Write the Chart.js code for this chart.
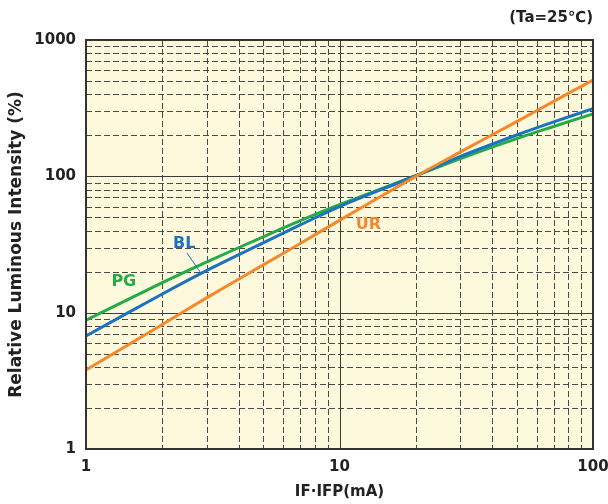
<!DOCTYPE html>
<html>
<head>
<meta charset="utf-8">
<script src="https://cdn.jsdelivr.net/npm/chart.js@4.4.1/dist/chart.umd.min.js"></script>
<style>
  html, body { margin: 0; padding: 0; background: #ffffff; }
  #wrap { width: 608px; height: 504px; position: relative; }
</style>
</head>
<body>
<div id="wrap"><canvas id="ivChart" width="608" height="504"></canvas></div>
<script>
// forward current IF (mA)
const currents = [1, 2, 3, 5, 7, 10, 20, 30, 50, 70, 100];
// relative luminous intensity (%)
const pgValues = [8.8, 16.6, 23.6, 36, 47.3, 62, 101, 135, 189, 232, 287];
const blValues = [6.75, 13.7, 20.4, 32.5, 44, 60, 101, 140, 201, 251, 313];
const urValues = [3.8, 8.2, 12.9, 22.4, 32.2, 47.5, 100, 151, 252, 355, 509];
const xTickLabels = [1, 10, 100];
const yTickLabels = [1, 10, 100, 1000];
// curve labels, placed in data coordinates
const curveLabels = [
    { text: 'PG', x: 1.41, y: 16.8, color: '#24ab48' },
    { text: 'BL', x: 2.44, y: 31.9, color: '#1a72c0' },
    { text: 'UR', x: 13.0, y: 44, color: '#f5892a' }
];
const blLeader = [{ x: 2.5, y: 27.4 }, { x: 2.82, y: 19.9 }];

const FONT = '"DejaVu Sans", "Liberation Sans", sans-serif';

function toPoints(values) {
    return currents.map(function(c, i) { return { x: c, y: values[i] }; });
}

const gridPlugin = {
    id: 'logGrid',
    beforeDatasetsDraw: function(chart) {
        const ctx = chart.ctx;
        const area = chart.chartArea;
        const xs = chart.scales.x;
        const ys = chart.scales.y;
        ctx.save();
        ctx.fillStyle = '#fef9dc';
        ctx.fillRect(area.left, area.top, area.right - area.left, area.bottom - area.top);

        // minor dashed lines
        ctx.strokeStyle = '#4a4a4a';
        ctx.lineWidth = 1;
        ctx.setLineDash([6, 3]);
        [1, 10].forEach(function(d) {
            for (let m = 2; m <= 9; m++) {
                const px = Math.round(xs.getPixelForValue(d * m)) + 0.5;
                ctx.beginPath();
                ctx.moveTo(px, area.top);
                ctx.lineTo(px, area.bottom);
                ctx.stroke();
            }
        });
        [1, 10, 100].forEach(function(d) {
            for (let m = 2; m <= 9; m++) {
                const py = Math.round(ys.getPixelForValue(d * m)) + 0.5;
                ctx.beginPath();
                ctx.moveTo(area.left, py);
                ctx.lineTo(area.right, py);
                ctx.stroke();
            }
        });

        // major solid lines
        ctx.setLineDash([]);
        ctx.strokeStyle = '#3c3c3c';
        ctx.lineWidth = 1;
        const px10 = Math.round(xs.getPixelForValue(10)) + 0.5;
        ctx.beginPath();
        ctx.moveTo(px10, area.top);
        ctx.lineTo(px10, area.bottom);
        ctx.stroke();
        [10, 100].forEach(function(v) {
            const py = Math.round(ys.getPixelForValue(v)) + 0.5;
            ctx.beginPath();
            ctx.moveTo(area.left, py);
            ctx.lineTo(area.right, py);
            ctx.stroke();
        });
        ctx.restore();
    },
    afterDatasetsDraw: function(chart) {
        const ctx = chart.ctx;
        const area = chart.chartArea;
        const xs = chart.scales.x;
        const ys = chart.scales.y;
        ctx.save();
        ctx.strokeStyle = '#333333';
        ctx.lineWidth = 2;
        ctx.strokeRect(area.left, area.top, area.right - area.left, area.bottom - area.top);

        // x tick labels
        ctx.fillStyle = '#222222';
        ctx.font = 'bold 15px ' + FONT;
        ctx.textAlign = 'center';
        ctx.textBaseline = 'middle';
        xTickLabels.forEach(function(v) {
            ctx.fillText(String(v), xs.getPixelForValue(v), area.bottom + 18);
        });

        // curve labels
        ctx.font = 'bold 16px ' + FONT;
        curveLabels.forEach(function(l) {
            ctx.fillStyle = l.color;
            ctx.fillText(l.text, xs.getPixelForValue(l.x), ys.getPixelForValue(l.y));
        });
        ctx.strokeStyle = '#1a72c0';
        ctx.lineWidth = 1;
        ctx.beginPath();
        ctx.moveTo(xs.getPixelForValue(blLeader[0].x), ys.getPixelForValue(blLeader[0].y));
        ctx.lineTo(xs.getPixelForValue(blLeader[1].x), ys.getPixelForValue(blLeader[1].y));
        ctx.stroke();

        // condition note
        ctx.fillStyle = '#222222';
        ctx.font = 'bold 15px ' + FONT;
        ctx.textAlign = 'right';
        ctx.fillText('(Ta=25℃)', area.right, 18);
        ctx.restore();
    }
};

document.addEventListener('DOMContentLoaded', function() {
    const ctx = document.getElementById('ivChart').getContext('2d');
    new Chart(ctx, {
        type: 'line',
        data: {
            datasets: [
                { label: 'UR', data: toPoints(urValues), borderColor: '#f5892a', borderWidth: 3, pointRadius: 0, tension: 0.3 },
                { label: 'BL', data: toPoints(blValues), borderColor: '#1a72c0', borderWidth: 3, pointRadius: 0, tension: 0.3 },
                { label: 'PG', data: toPoints(pgValues), borderColor: '#24ab48', borderWidth: 3, pointRadius: 0, tension: 0.3 }
            ]
        },
        options: {
            responsive: false,
            animation: false,
            layout: {
                padding: { top: 40, right: 15, left: 0, bottom: 0 }
            },
            plugins: {
                legend: { display: false },
                tooltip: { enabled: false }
            },
            scales: {
                x: {
                    type: 'logarithmic',
                    min: 1,
                    max: 100,
                    grid: { display: false, drawTicks: false },
                    border: { display: false },
                    afterFit: function(scale) { scale.height = 55; },
                    ticks: { display: false },
                    title: {
                        display: true,
                        text: 'IF·IFP(mA)',
                        color: '#222222',
                        padding: { top: 0, bottom: 3 },
                        font: { family: FONT, size: 15, weight: 'bold' }
                    }
                },
                y: {
                    type: 'logarithmic',
                    min: 1,
                    max: 1000,
                    grid: { display: false, drawTicks: false },
                    border: { display: false },
                    afterFit: function(scale) { scale.width = 86; },
                    afterBuildTicks: function(scale) {
                        scale.ticks = yTickLabels.map(function(v) { return { value: v }; });
                    },
                    ticks: {
                        padding: 10,
                        color: '#222222',
                        font: { family: FONT, size: 15, weight: 'bold' },
                        callback: function(v) { return String(v); }
                    },
                    title: {
                        display: true,
                        text: 'Relative Luminous Intensity (%)',
                        color: '#222222',
                        padding: { top: 6, bottom: 0 },
                        font: { family: FONT, size: 17, weight: 'bold' }
                    }
                }
            }
        },
        plugins: [gridPlugin]
    });
});
</script>
</body>
</html>
